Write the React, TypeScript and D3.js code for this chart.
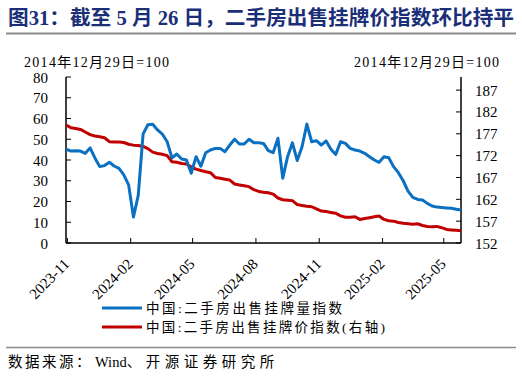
import React from "react";
import * as d3 from "d3";

const startDate = "2023-10-30";
const weeks = 83;

const listingVolume = [
  45.2, 44.3, 44.4, 44.3, 43.2, 45.8, 41.0, 36.8, 37.3, 38.9,
  37.1, 36.0, 32.8, 28.0, 12.5, 23.0, 52.5, 57.0, 57.2, 54.5,
  52.5, 48.8, 41.0, 42.9, 40.5, 40.0, 33.6, 41.6, 37.0, 43.5,
  44.8, 45.6, 45.6, 44.0, 47.2, 50.0, 47.7, 47.7, 50.0, 48.3,
  48.3, 48.0, 44.5, 43.5, 50.5, 31.2, 41.6, 48.3, 39.7, 46.4,
  57.3, 48.8, 49.3, 47.2, 49.2, 45.2, 42.7, 48.8, 48.0, 45.6,
  44.8, 44.3, 43.2, 41.6, 40.0, 38.9, 41.6, 41.1, 36.8, 33.9,
  30.0, 25.0, 22.0, 21.0, 20.7, 19.1, 17.8, 17.3, 17.1, 16.9,
  16.7, 16.3, 15.9,
];

const listingPrice = [
  179.0, 178.4, 178.2, 178.0, 177.4, 176.8, 176.5, 176.3, 176.1, 175.2,
  175.1, 175.1, 175.0, 174.6, 174.4, 174.3, 174.1, 173.6, 172.8, 172.5,
  172.3, 172.0, 170.6, 170.5, 170.2, 170.1, 169.4, 168.9, 168.6, 168.3,
  168.1, 167.0, 166.8, 166.6, 166.4, 165.5, 165.3, 165.1, 164.9, 164.2,
  163.8, 163.6, 163.5, 163.2, 162.3, 161.9, 161.8, 161.7, 160.8, 160.6,
  160.4, 160.3, 159.8, 159.3, 159.2, 159.0, 158.8, 158.2, 157.9, 157.9,
  158.0, 157.4, 157.6, 157.8, 158.0, 158.2, 157.4, 157.1, 157.0, 156.7,
  156.5, 156.4, 156.3, 156.4, 156.0, 155.8, 155.7, 155.8, 155.5, 155.1,
  155.0, 154.9, 154.8,
];

const xTickLabels = ["2023-11", "2024-02", "2024-05", "2024-08", "2024-11", "2025-02", "2025-05"];
const leftTicks = [0, 10, 20, 30, 40, 50, 60, 70, 80];
const rightTicks = [152, 157, 162, 167, 172, 177, 182, 187];

const titleText = "图31：截至 5 月 26 日，二手房出售挂牌价指数环比持平";
const unitLabel = "2014年12月29日=100";
const seriesNames = ["中国:二手房出售挂牌量指数", "中国:二手房出售挂牌价指数(右轴)"];
const sourceParts = ["数据来源：", "Wind", "、开源证券研究所"];

const FONT = "'Liberation Serif', 'Times New Roman', 'Noto Sans CJK SC', serif";
const BLUE = "#0a70c2";
const RED = "#c00000";

export default function App() {
  const W = 522, H = 377;
  const left = 66, right = 461, top = 77, bottom = 243;
  const parse = d3.timeParse("%Y-%m-%d");
  const d0 = parse(startDate) as Date;
  const dates = d3.range(weeks).map((i) => d3.timeDay.offset(d0, i * 7));
  const x = d3.scaleTime().domain([dates[0], dates[dates.length - 1]]).range([left, right]);
  const yL = d3.scaleLinear().domain([0, 80]).range([bottom, top]);
  const yR = d3.scaleLinear().domain([152, 190]).range([bottom, top]);

  const lineL = d3.line<number>().x((_, i) => x(dates[i])).y((d) => yL(d));
  const lineR = d3.line<number>().x((_, i) => x(dates[i])).y((d) => yR(d));

  const tickDates = xTickLabels.map((s) => parse(s + "-01") as Date);

  return (
    <svg width={W} height={H} style={{ position: "absolute", left: 0, top: 0, background: "#fff" }} fontFamily={FONT}>
      <text x={8} y={25} fontSize={20} fontWeight="bold" fill="#1b2f78" textLength={506} lengthAdjust="spacingAndGlyphs">
        {titleText}
      </text>
      <line x1={6} x2={516} y1={33.5} y2={33.5} stroke="#8c8c8c" strokeWidth={2} />

      <text x={24} y={67} fontSize={14} fill="#000" textLength={145} lengthAdjust="spacing">{unitLabel}</text>
      <text x={354} y={67} fontSize={14} fill="#000" textLength={145} lengthAdjust="spacing">{unitLabel}</text>

      {/* axes */}
      <line x1={left} x2={left} y1={top} y2={bottom} stroke="#000" strokeWidth={1.5} />
      <line x1={right} x2={right} y1={top} y2={bottom} stroke="#000" strokeWidth={1.5} />
      <line x1={left} x2={right} y1={bottom} y2={bottom} stroke="#000" strokeWidth={1.5} />

      {leftTicks.map((t) => (
        <g key={"l" + t}>
          <line x1={left} x2={left + 5} y1={yL(t)} y2={yL(t)} stroke="#000" strokeWidth={1} />
          <text x={48} y={yL(t) + 5.5} fontSize={15} textAnchor="end">{t}</text>
        </g>
      ))}
      {rightTicks.map((t) => (
        <g key={"r" + t}>
          <line x1={right - 5} x2={right} y1={yR(t)} y2={yR(t)} stroke="#000" strokeWidth={1} />
          <text x={475} y={yR(t) + 5.5} fontSize={15}>{t}</text>
        </g>
      ))}
      {tickDates.map((d, i) => (
        <g key={"x" + i}>
          <line x1={x(d)} x2={x(d)} y1={bottom} y2={bottom - 5} stroke="#000" strokeWidth={1} />
          <text
            transform={`translate(${x(d) + 3},${bottom + 22}) rotate(-45)`}
            fontSize={15}
            textAnchor="end"
          >
            {xTickLabels[i]}
          </text>
        </g>
      ))}

      <path d={lineR(listingPrice) || ""} fill="none" stroke={RED} strokeWidth={3} strokeLinejoin="round" />
      <path d={lineL(listingVolume) || ""} fill="none" stroke={BLUE} strokeWidth={3} strokeLinejoin="round" />

      {/* legend */}
      <line x1={102} x2={142} y1={308} y2={308} stroke={BLUE} strokeWidth={3} />
      <text x={146} y={313} fontSize={13.5} textLength={196} lengthAdjust="spacing">{seriesNames[0]}</text>
      <line x1={102} x2={142} y1={327} y2={327} stroke={RED} strokeWidth={3} />
      <text x={146} y={332} fontSize={13.5} textLength={239} lengthAdjust="spacing">{seriesNames[1]}</text>

      <line x1={6} x2={516} y1={347.5} y2={347.5} stroke="#8c8c8c" strokeWidth={1.5} />
      <text x={8} y={367} fontSize={14.5}>
        <tspan letterSpacing={2.5}>{sourceParts[0]}</tspan>
        <tspan dx={2}>{sourceParts[1]}</tspan>
        <tspan letterSpacing={4.5}>{sourceParts[2]}</tspan>
      </text>
    </svg>
  );
}
